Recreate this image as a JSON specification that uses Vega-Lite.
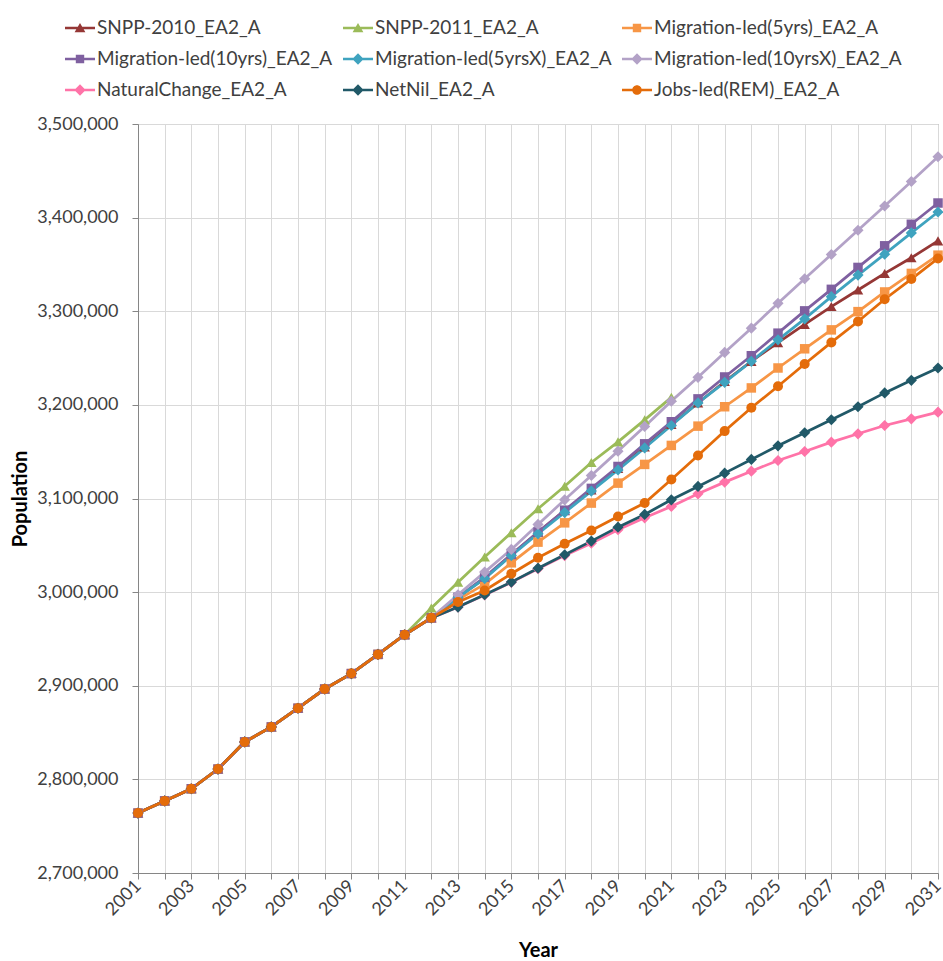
{
"$schema":"https://vega.github.io/schema/vega-lite/v6.json",
"width":800,"height":749,
"autosize":{"type":"none"},
"padding":{"left":138,"top":124,"right":5,"bottom":88},
"background":"white",
"config":{"font":"Lato","view":{"stroke":"#868686","strokeWidth":1},
"axis":{"labelFont":"Lato","labelFontSize":18,"labelColor":"#404040","titleFont":"Lato","titleFontSize":20,"titleFontWeight":"bold","titleColor":"#000000","gridColor":"#d9d9d9","gridWidth":1,"domainColor":"#868686","tickColor":"#868686","tickSize":6}},
"data":{"values":[
{"series":"SNPP-2010_EA2_A","year":2001,"population":2764000},{"series":"SNPP-2010_EA2_A","year":2002,"population":2777000},{"series":"SNPP-2010_EA2_A","year":2003,"population":2790000},{"series":"SNPP-2010_EA2_A","year":2004,"population":2811000},{"series":"SNPP-2010_EA2_A","year":2005,"population":2840000},{"series":"SNPP-2010_EA2_A","year":2006,"population":2856000},{"series":"SNPP-2010_EA2_A","year":2007,"population":2876000},{"series":"SNPP-2010_EA2_A","year":2008,"population":2896500},{"series":"SNPP-2010_EA2_A","year":2009,"population":2913000},{"series":"SNPP-2010_EA2_A","year":2010,"population":2933500},{"series":"SNPP-2010_EA2_A","year":2011,"population":2954500},{"series":"SNPP-2010_EA2_A","year":2012,"population":2972500},{"series":"SNPP-2010_EA2_A","year":2013,"population":2994500},{"series":"SNPP-2010_EA2_A","year":2014,"population":3015000},{"series":"SNPP-2010_EA2_A","year":2015,"population":3040000},{"series":"SNPP-2010_EA2_A","year":2016,"population":3064000},{"series":"SNPP-2010_EA2_A","year":2017,"population":3087000},{"series":"SNPP-2010_EA2_A","year":2018,"population":3109000},{"series":"SNPP-2010_EA2_A","year":2019,"population":3132000},{"series":"SNPP-2010_EA2_A","year":2020,"population":3155000},{"series":"SNPP-2010_EA2_A","year":2021,"population":3179000},{"series":"SNPP-2010_EA2_A","year":2022,"population":3202000},{"series":"SNPP-2010_EA2_A","year":2023,"population":3225000},{"series":"SNPP-2010_EA2_A","year":2024,"population":3246500},{"series":"SNPP-2010_EA2_A","year":2025,"population":3266500},{"series":"SNPP-2010_EA2_A","year":2026,"population":3286000},{"series":"SNPP-2010_EA2_A","year":2027,"population":3305000},{"series":"SNPP-2010_EA2_A","year":2028,"population":3322700},{"series":"SNPP-2010_EA2_A","year":2029,"population":3340400},{"series":"SNPP-2010_EA2_A","year":2030,"population":3357100},{"series":"SNPP-2010_EA2_A","year":2031,"population":3375200},
{"series":"SNPP-2011_EA2_A","year":2001,"population":2764000},{"series":"SNPP-2011_EA2_A","year":2002,"population":2777000},{"series":"SNPP-2011_EA2_A","year":2003,"population":2790000},{"series":"SNPP-2011_EA2_A","year":2004,"population":2811000},{"series":"SNPP-2011_EA2_A","year":2005,"population":2840000},{"series":"SNPP-2011_EA2_A","year":2006,"population":2856000},{"series":"SNPP-2011_EA2_A","year":2007,"population":2876000},{"series":"SNPP-2011_EA2_A","year":2008,"population":2896500},{"series":"SNPP-2011_EA2_A","year":2009,"population":2913000},{"series":"SNPP-2011_EA2_A","year":2010,"population":2933500},{"series":"SNPP-2011_EA2_A","year":2011,"population":2954500},{"series":"SNPP-2011_EA2_A","year":2012,"population":2983000},{"series":"SNPP-2011_EA2_A","year":2013,"population":3010500},{"series":"SNPP-2011_EA2_A","year":2014,"population":3037500},{"series":"SNPP-2011_EA2_A","year":2015,"population":3063500},{"series":"SNPP-2011_EA2_A","year":2016,"population":3089000},{"series":"SNPP-2011_EA2_A","year":2017,"population":3113000},{"series":"SNPP-2011_EA2_A","year":2018,"population":3138500},{"series":"SNPP-2011_EA2_A","year":2019,"population":3160500},{"series":"SNPP-2011_EA2_A","year":2020,"population":3184000},{"series":"SNPP-2011_EA2_A","year":2021,"population":3208000},
{"series":"Migration-led(5yrs)_EA2_A","year":2001,"population":2764000},{"series":"Migration-led(5yrs)_EA2_A","year":2002,"population":2777000},{"series":"Migration-led(5yrs)_EA2_A","year":2003,"population":2790000},{"series":"Migration-led(5yrs)_EA2_A","year":2004,"population":2811000},{"series":"Migration-led(5yrs)_EA2_A","year":2005,"population":2840000},{"series":"Migration-led(5yrs)_EA2_A","year":2006,"population":2856000},{"series":"Migration-led(5yrs)_EA2_A","year":2007,"population":2876000},{"series":"Migration-led(5yrs)_EA2_A","year":2008,"population":2896500},{"series":"Migration-led(5yrs)_EA2_A","year":2009,"population":2913000},{"series":"Migration-led(5yrs)_EA2_A","year":2010,"population":2933500},{"series":"Migration-led(5yrs)_EA2_A","year":2011,"population":2954500},{"series":"Migration-led(5yrs)_EA2_A","year":2012,"population":2972500},{"series":"Migration-led(5yrs)_EA2_A","year":2013,"population":2992000},{"series":"Migration-led(5yrs)_EA2_A","year":2014,"population":3008500},{"series":"Migration-led(5yrs)_EA2_A","year":2015,"population":3031300},{"series":"Migration-led(5yrs)_EA2_A","year":2016,"population":3053400},{"series":"Migration-led(5yrs)_EA2_A","year":2017,"population":3074000},{"series":"Migration-led(5yrs)_EA2_A","year":2018,"population":3095100},{"series":"Migration-led(5yrs)_EA2_A","year":2019,"population":3116400},{"series":"Migration-led(5yrs)_EA2_A","year":2020,"population":3136400},{"series":"Migration-led(5yrs)_EA2_A","year":2021,"population":3156700},{"series":"Migration-led(5yrs)_EA2_A","year":2022,"population":3177300},{"series":"Migration-led(5yrs)_EA2_A","year":2023,"population":3198000},{"series":"Migration-led(5yrs)_EA2_A","year":2024,"population":3218100},{"series":"Migration-led(5yrs)_EA2_A","year":2025,"population":3239400},{"series":"Migration-led(5yrs)_EA2_A","year":2026,"population":3259900},{"series":"Migration-led(5yrs)_EA2_A","year":2027,"population":3280100},{"series":"Migration-led(5yrs)_EA2_A","year":2028,"population":3299600},{"series":"Migration-led(5yrs)_EA2_A","year":2029,"population":3320600},{"series":"Migration-led(5yrs)_EA2_A","year":2030,"population":3340400},{"series":"Migration-led(5yrs)_EA2_A","year":2031,"population":3359900},
{"series":"Migration-led(10yrs)_EA2_A","year":2001,"population":2764000},{"series":"Migration-led(10yrs)_EA2_A","year":2002,"population":2777000},{"series":"Migration-led(10yrs)_EA2_A","year":2003,"population":2790000},{"series":"Migration-led(10yrs)_EA2_A","year":2004,"population":2811000},{"series":"Migration-led(10yrs)_EA2_A","year":2005,"population":2840000},{"series":"Migration-led(10yrs)_EA2_A","year":2006,"population":2856000},{"series":"Migration-led(10yrs)_EA2_A","year":2007,"population":2876000},{"series":"Migration-led(10yrs)_EA2_A","year":2008,"population":2896500},{"series":"Migration-led(10yrs)_EA2_A","year":2009,"population":2913000},{"series":"Migration-led(10yrs)_EA2_A","year":2010,"population":2933500},{"series":"Migration-led(10yrs)_EA2_A","year":2011,"population":2954500},{"series":"Migration-led(10yrs)_EA2_A","year":2012,"population":2972500},{"series":"Migration-led(10yrs)_EA2_A","year":2013,"population":2994500},{"series":"Migration-led(10yrs)_EA2_A","year":2014,"population":3016000},{"series":"Migration-led(10yrs)_EA2_A","year":2015,"population":3040200},{"series":"Migration-led(10yrs)_EA2_A","year":2016,"population":3064100},{"series":"Migration-led(10yrs)_EA2_A","year":2017,"population":3087500},{"series":"Migration-led(10yrs)_EA2_A","year":2018,"population":3110800},{"series":"Migration-led(10yrs)_EA2_A","year":2019,"population":3134200},{"series":"Migration-led(10yrs)_EA2_A","year":2020,"population":3158400},{"series":"Migration-led(10yrs)_EA2_A","year":2021,"population":3182000},{"series":"Migration-led(10yrs)_EA2_A","year":2022,"population":3206400},{"series":"Migration-led(10yrs)_EA2_A","year":2023,"population":3229800},{"series":"Migration-led(10yrs)_EA2_A","year":2024,"population":3252500},{"series":"Migration-led(10yrs)_EA2_A","year":2025,"population":3276600},{"series":"Migration-led(10yrs)_EA2_A","year":2026,"population":3300400},{"series":"Migration-led(10yrs)_EA2_A","year":2027,"population":3323400},{"series":"Migration-led(10yrs)_EA2_A","year":2028,"population":3346800},{"series":"Migration-led(10yrs)_EA2_A","year":2029,"population":3369900},{"series":"Migration-led(10yrs)_EA2_A","year":2030,"population":3392900},{"series":"Migration-led(10yrs)_EA2_A","year":2031,"population":3415600},
{"series":"Migration-led(5yrsX)_EA2_A","year":2001,"population":2764000},{"series":"Migration-led(5yrsX)_EA2_A","year":2002,"population":2777000},{"series":"Migration-led(5yrsX)_EA2_A","year":2003,"population":2790000},{"series":"Migration-led(5yrsX)_EA2_A","year":2004,"population":2811000},{"series":"Migration-led(5yrsX)_EA2_A","year":2005,"population":2840000},{"series":"Migration-led(5yrsX)_EA2_A","year":2006,"population":2856000},{"series":"Migration-led(5yrsX)_EA2_A","year":2007,"population":2876000},{"series":"Migration-led(5yrsX)_EA2_A","year":2008,"population":2896500},{"series":"Migration-led(5yrsX)_EA2_A","year":2009,"population":2913000},{"series":"Migration-led(5yrsX)_EA2_A","year":2010,"population":2933500},{"series":"Migration-led(5yrsX)_EA2_A","year":2011,"population":2954500},{"series":"Migration-led(5yrsX)_EA2_A","year":2012,"population":2972500},{"series":"Migration-led(5yrsX)_EA2_A","year":2013,"population":2994500},{"series":"Migration-led(5yrsX)_EA2_A","year":2014,"population":3014500},{"series":"Migration-led(5yrsX)_EA2_A","year":2015,"population":3039000},{"series":"Migration-led(5yrsX)_EA2_A","year":2016,"population":3062300},{"series":"Migration-led(5yrsX)_EA2_A","year":2017,"population":3085000},{"series":"Migration-led(5yrsX)_EA2_A","year":2018,"population":3107900},{"series":"Migration-led(5yrsX)_EA2_A","year":2019,"population":3130500},{"series":"Migration-led(5yrsX)_EA2_A","year":2020,"population":3154000},{"series":"Migration-led(5yrsX)_EA2_A","year":2021,"population":3178000},{"series":"Migration-led(5yrsX)_EA2_A","year":2022,"population":3202100},{"series":"Migration-led(5yrsX)_EA2_A","year":2023,"population":3224100},{"series":"Migration-led(5yrsX)_EA2_A","year":2024,"population":3246500},{"series":"Migration-led(5yrsX)_EA2_A","year":2025,"population":3269500},{"series":"Migration-led(5yrsX)_EA2_A","year":2026,"population":3291800},{"series":"Migration-led(5yrsX)_EA2_A","year":2027,"population":3315600},{"series":"Migration-led(5yrsX)_EA2_A","year":2028,"population":3338600},{"series":"Migration-led(5yrsX)_EA2_A","year":2029,"population":3361000},{"series":"Migration-led(5yrsX)_EA2_A","year":2030,"population":3383700},{"series":"Migration-led(5yrsX)_EA2_A","year":2031,"population":3406000},
{"series":"Migration-led(10yrsX)_EA2_A","year":2001,"population":2764000},{"series":"Migration-led(10yrsX)_EA2_A","year":2002,"population":2777000},{"series":"Migration-led(10yrsX)_EA2_A","year":2003,"population":2790000},{"series":"Migration-led(10yrsX)_EA2_A","year":2004,"population":2811000},{"series":"Migration-led(10yrsX)_EA2_A","year":2005,"population":2840000},{"series":"Migration-led(10yrsX)_EA2_A","year":2006,"population":2856000},{"series":"Migration-led(10yrsX)_EA2_A","year":2007,"population":2876000},{"series":"Migration-led(10yrsX)_EA2_A","year":2008,"population":2896500},{"series":"Migration-led(10yrsX)_EA2_A","year":2009,"population":2913000},{"series":"Migration-led(10yrsX)_EA2_A","year":2010,"population":2933500},{"series":"Migration-led(10yrsX)_EA2_A","year":2011,"population":2954500},{"series":"Migration-led(10yrsX)_EA2_A","year":2012,"population":2972500},{"series":"Migration-led(10yrsX)_EA2_A","year":2013,"population":2997200},{"series":"Migration-led(10yrsX)_EA2_A","year":2014,"population":3021400},{"series":"Migration-led(10yrsX)_EA2_A","year":2015,"population":3045600},{"series":"Migration-led(10yrsX)_EA2_A","year":2016,"population":3072300},{"series":"Migration-led(10yrsX)_EA2_A","year":2017,"population":3098600},{"series":"Migration-led(10yrsX)_EA2_A","year":2018,"population":3124600},{"series":"Migration-led(10yrsX)_EA2_A","year":2019,"population":3150600},{"series":"Migration-led(10yrsX)_EA2_A","year":2020,"population":3177000},{"series":"Migration-led(10yrsX)_EA2_A","year":2021,"population":3204000},{"series":"Migration-led(10yrsX)_EA2_A","year":2022,"population":3229400},{"series":"Migration-led(10yrsX)_EA2_A","year":2023,"population":3256000},{"series":"Migration-led(10yrsX)_EA2_A","year":2024,"population":3281900},{"series":"Migration-led(10yrsX)_EA2_A","year":2025,"population":3308500},{"series":"Migration-led(10yrsX)_EA2_A","year":2026,"population":3334700},{"series":"Migration-led(10yrsX)_EA2_A","year":2027,"population":3360600},{"series":"Migration-led(10yrsX)_EA2_A","year":2028,"population":3386500},{"series":"Migration-led(10yrsX)_EA2_A","year":2029,"population":3412400},{"series":"Migration-led(10yrsX)_EA2_A","year":2030,"population":3438600},{"series":"Migration-led(10yrsX)_EA2_A","year":2031,"population":3465000},
{"series":"NaturalChange_EA2_A","year":2001,"population":2764000},{"series":"NaturalChange_EA2_A","year":2002,"population":2777000},{"series":"NaturalChange_EA2_A","year":2003,"population":2790000},{"series":"NaturalChange_EA2_A","year":2004,"population":2811000},{"series":"NaturalChange_EA2_A","year":2005,"population":2840000},{"series":"NaturalChange_EA2_A","year":2006,"population":2856000},{"series":"NaturalChange_EA2_A","year":2007,"population":2876000},{"series":"NaturalChange_EA2_A","year":2008,"population":2896500},{"series":"NaturalChange_EA2_A","year":2009,"population":2913000},{"series":"NaturalChange_EA2_A","year":2010,"population":2933500},{"series":"NaturalChange_EA2_A","year":2011,"population":2954500},{"series":"NaturalChange_EA2_A","year":2012,"population":2972500},{"series":"NaturalChange_EA2_A","year":2013,"population":2984000},{"series":"NaturalChange_EA2_A","year":2014,"population":2997000},{"series":"NaturalChange_EA2_A","year":2015,"population":3010500},{"series":"NaturalChange_EA2_A","year":2016,"population":3025000},{"series":"NaturalChange_EA2_A","year":2017,"population":3039000},{"series":"NaturalChange_EA2_A","year":2018,"population":3052300},{"series":"NaturalChange_EA2_A","year":2019,"population":3066600},{"series":"NaturalChange_EA2_A","year":2020,"population":3079400},{"series":"NaturalChange_EA2_A","year":2021,"population":3091500},{"series":"NaturalChange_EA2_A","year":2022,"population":3105000},{"series":"NaturalChange_EA2_A","year":2023,"population":3117500},{"series":"NaturalChange_EA2_A","year":2024,"population":3129200},{"series":"NaturalChange_EA2_A","year":2025,"population":3140600},{"series":"NaturalChange_EA2_A","year":2026,"population":3150200},{"series":"NaturalChange_EA2_A","year":2027,"population":3160200},{"series":"NaturalChange_EA2_A","year":2028,"population":3169100},{"series":"NaturalChange_EA2_A","year":2029,"population":3178000},{"series":"NaturalChange_EA2_A","year":2030,"population":3185100},{"series":"NaturalChange_EA2_A","year":2031,"population":3192200},
{"series":"NetNil_EA2_A","year":2001,"population":2764000},{"series":"NetNil_EA2_A","year":2002,"population":2777000},{"series":"NetNil_EA2_A","year":2003,"population":2790000},{"series":"NetNil_EA2_A","year":2004,"population":2811000},{"series":"NetNil_EA2_A","year":2005,"population":2840000},{"series":"NetNil_EA2_A","year":2006,"population":2856000},{"series":"NetNil_EA2_A","year":2007,"population":2876000},{"series":"NetNil_EA2_A","year":2008,"population":2896500},{"series":"NetNil_EA2_A","year":2009,"population":2913000},{"series":"NetNil_EA2_A","year":2010,"population":2933500},{"series":"NetNil_EA2_A","year":2011,"population":2954500},{"series":"NetNil_EA2_A","year":2012,"population":2972500},{"series":"NetNil_EA2_A","year":2013,"population":2984000},{"series":"NetNil_EA2_A","year":2014,"population":2997200},{"series":"NetNil_EA2_A","year":2015,"population":3010700},{"series":"NetNil_EA2_A","year":2016,"population":3025600},{"series":"NetNil_EA2_A","year":2017,"population":3039900},{"series":"NetNil_EA2_A","year":2018,"population":3054500},{"series":"NetNil_EA2_A","year":2019,"population":3069400},{"series":"NetNil_EA2_A","year":2020,"population":3083000},{"series":"NetNil_EA2_A","year":2021,"population":3098600},{"series":"NetNil_EA2_A","year":2022,"population":3112900},{"series":"NetNil_EA2_A","year":2023,"population":3127100},{"series":"NetNil_EA2_A","year":2024,"population":3141700},{"series":"NetNil_EA2_A","year":2025,"population":3156300},{"series":"NetNil_EA2_A","year":2026,"population":3170200},{"series":"NetNil_EA2_A","year":2027,"population":3184100},{"series":"NetNil_EA2_A","year":2028,"population":3198000},{"series":"NetNil_EA2_A","year":2029,"population":3212800},{"series":"NetNil_EA2_A","year":2030,"population":3226200},{"series":"NetNil_EA2_A","year":2031,"population":3239400},
{"series":"Jobs-led(REM)_EA2_A","year":2001,"population":2764000},{"series":"Jobs-led(REM)_EA2_A","year":2002,"population":2777000},{"series":"Jobs-led(REM)_EA2_A","year":2003,"population":2790000},{"series":"Jobs-led(REM)_EA2_A","year":2004,"population":2811000},{"series":"Jobs-led(REM)_EA2_A","year":2005,"population":2840000},{"series":"Jobs-led(REM)_EA2_A","year":2006,"population":2856000},{"series":"Jobs-led(REM)_EA2_A","year":2007,"population":2876000},{"series":"Jobs-led(REM)_EA2_A","year":2008,"population":2896500},{"series":"Jobs-led(REM)_EA2_A","year":2009,"population":2913000},{"series":"Jobs-led(REM)_EA2_A","year":2010,"population":2933500},{"series":"Jobs-led(REM)_EA2_A","year":2011,"population":2954500},{"series":"Jobs-led(REM)_EA2_A","year":2012,"population":2972500},{"series":"Jobs-led(REM)_EA2_A","year":2013,"population":2989500},{"series":"Jobs-led(REM)_EA2_A","year":2014,"population":3001800},{"series":"Jobs-led(REM)_EA2_A","year":2015,"population":3019600},{"series":"Jobs-led(REM)_EA2_A","year":2016,"population":3036700},{"series":"Jobs-led(REM)_EA2_A","year":2017,"population":3051600},{"series":"Jobs-led(REM)_EA2_A","year":2018,"population":3065900},{"series":"Jobs-led(REM)_EA2_A","year":2019,"population":3080800},{"series":"Jobs-led(REM)_EA2_A","year":2020,"population":3095100},{"series":"Jobs-led(REM)_EA2_A","year":2021,"population":3120300},{"series":"Jobs-led(REM)_EA2_A","year":2022,"population":3146000},{"series":"Jobs-led(REM)_EA2_A","year":2023,"population":3172000},{"series":"Jobs-led(REM)_EA2_A","year":2024,"population":3196900},{"series":"Jobs-led(REM)_EA2_A","year":2025,"population":3219900},{"series":"Jobs-led(REM)_EA2_A","year":2026,"population":3243600},{"series":"Jobs-led(REM)_EA2_A","year":2027,"population":3266700},{"series":"Jobs-led(REM)_EA2_A","year":2028,"population":3289000},{"series":"Jobs-led(REM)_EA2_A","year":2029,"population":3312800},{"series":"Jobs-led(REM)_EA2_A","year":2030,"population":3334400},{"series":"Jobs-led(REM)_EA2_A","year":2031,"population":3356400}
]},
"encoding":{
"x":{"field":"year","type":"quantitative","scale":{"domain":[2001,2031],"nice":false,"zero":false},
"axis":{"values":[2001,2002,2003,2004,2005,2006,2007,2008,2009,2010,2011,2012,2013,2014,2015,2016,2017,2018,2019,2020,2021,2022,2023,2024,2025,2026,2027,2028,2029,2030,2031],"format":"d","labelExpr":"datum.value % 2 == 1 ? datum.label : ''","labelAngle":-45,"labelAlign":"right","labelBaseline":"middle","labelPadding":4,"labelOverlap":false,"labelBound":false,"labelFlush":false,"title":"Year","titleY":77,"titleBaseline":"middle","grid":true}},
"y":{"field":"population","type":"quantitative","scale":{"domain":[2700000,3500000],"nice":false,"zero":false},
"axis":{"values":[2700000,2800000,2900000,3000000,3100000,3200000,3300000,3400000,3500000],"format":",d","labelPadding":14,"labelFlush":false,"title":"Population","titleX":-118,"titleY":374.5,"titleAngle":-90,"titleBaseline":"middle","titleAlign":"center","grid":true}},
"color":{"field":"series","type":"nominal",
"scale":{"domain":["SNPP-2010_EA2_A","SNPP-2011_EA2_A","Migration-led(5yrs)_EA2_A","Migration-led(10yrs)_EA2_A","Migration-led(5yrsX)_EA2_A","Migration-led(10yrsX)_EA2_A","NaturalChange_EA2_A","NetNil_EA2_A","Jobs-led(REM)_EA2_A"],
"range":["#953735","#9bbb59","#f79646","#7f60a0","#3fa3bf","#b3a2c7","#ff73a8","#215968","#e46c0a"]},
"legend":{"title":null,"orient":"none","legendX":-73,"legendY":-111,"direction":"horizontal","columns":3,"columnPadding":10,"rowPadding":6,"symbolSize":900,"symbolStrokeWidth":0,"labelOffset":2,"labelFont":"Lato","labelFontSize":19,"labelColor":"#404040","labelLimit":400,"padding":0,
"encoding":{"symbols":{
"shape":{"value":{"expr":"indexof(datum.value,'SNPP')==0 ? 'M-1,-0.085H1V0.085H-1Z M0,-0.34L0.36,0.28H-0.36Z' : indexof(datum.value,'yrs)')>=0 ? 'M-1,-0.085H1V0.085H-1Z M-0.28,-0.28H0.28V0.28H-0.28Z' : indexof(datum.value,'Jobs')==0 ? 'M-1,-0.085H1V0.085H-1Z M0.32,0A0.32,0.32 0 1 1 -0.32,0A0.32,0.32 0 1 1 0.32,0Z' : 'M-1,-0.085H1V0.085H-1Z M0,-0.38L0.38,0L0,0.38L-0.38,0Z'"}},
"fill":{"value":{"expr":"scale('color', datum.value)"}},
"stroke":{"value":"transparent"},
"strokeWidth":{"value":0},
"opacity":{"value":1}}}}}
},
"layer":[
{"mark":{"type":"line","strokeWidth":2.75}},
{"transform":[{"filter":{"field":"series","oneOf":["SNPP-2010_EA2_A","SNPP-2011_EA2_A"]}}],
 "mark":{"type":"point","filled":true,"opacity":1,"size":110,"shape":"triangle-up"}},
{"transform":[{"filter":{"field":"series","oneOf":["Migration-led(5yrs)_EA2_A","Migration-led(10yrs)_EA2_A"]}}],
 "mark":{"type":"point","filled":true,"opacity":1,"size":90,"shape":"square"}},
{"transform":[{"filter":{"field":"series","oneOf":["Migration-led(5yrsX)_EA2_A","Migration-led(10yrsX)_EA2_A","NaturalChange_EA2_A","NetNil_EA2_A"]}}],
 "mark":{"type":"point","filled":true,"opacity":1,"size":125,"shape":"diamond"}},
{"transform":[{"filter":{"field":"series","oneOf":["Jobs-led(REM)_EA2_A"]}}],
 "mark":{"type":"point","filled":true,"opacity":1,"size":100,"shape":"circle"}}
]
}
